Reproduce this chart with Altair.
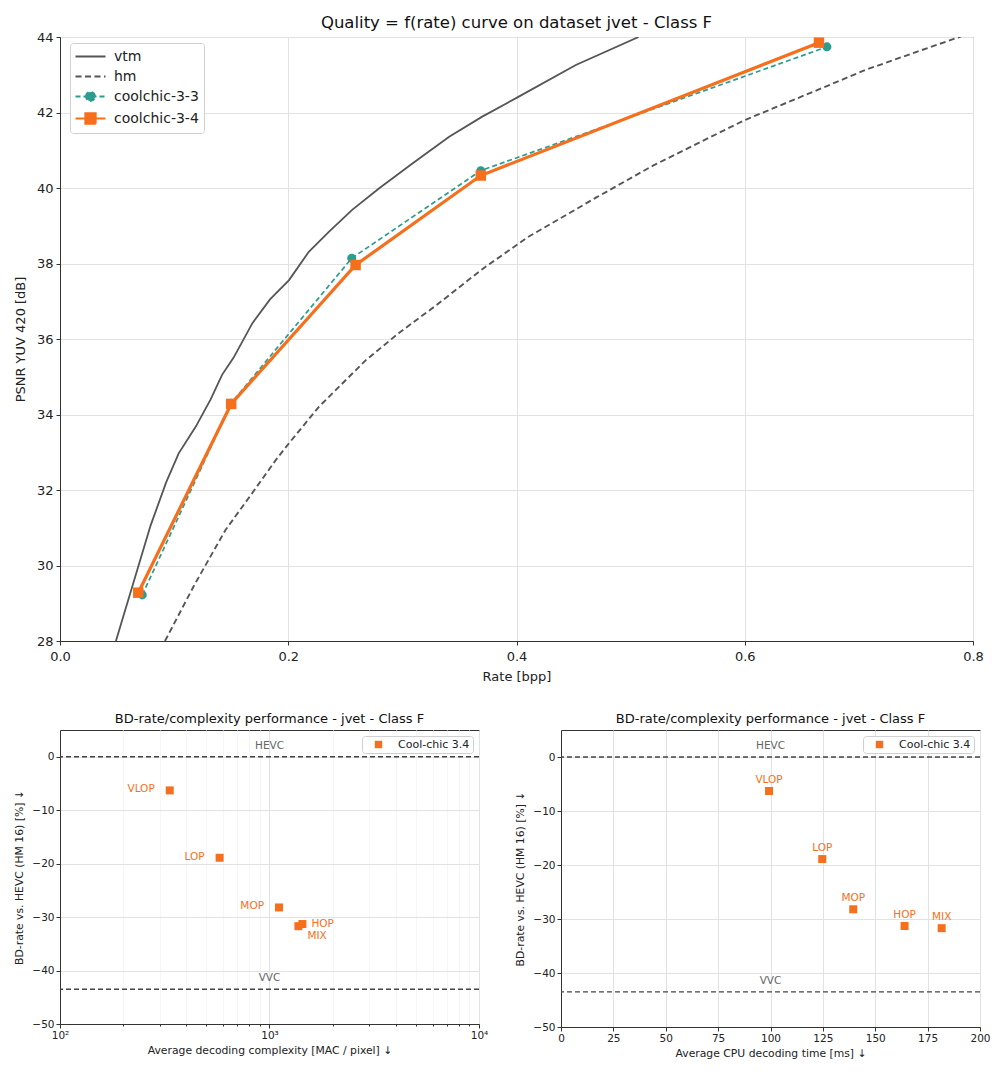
import altair as alt
import pandas as pd

# ---------------- data: top chart ----------------
vtm_rate = [0.049, 0.0795, 0.093, 0.104, 0.119, 0.132, 0.142, 0.152, 0.1686, 0.184, 0.2007, 0.218,
            0.236, 0.256, 0.28, 0.3088, 0.341, 0.370, 0.402, 0.452, 0.507]
vtm_psnr = [28.0, 31.07, 32.2, 32.97, 33.68, 34.4, 35.05, 35.5, 36.42, 37.05, 37.56, 38.31,
            38.85, 39.42, 40.0, 40.65, 41.36, 41.89, 42.42, 43.26, 44.0]

hm_rate = [0.092, 0.118, 0.145, 0.168, 0.189, 0.2007, 0.227, 0.268, 0.297, 0.33, 0.37, 0.41,
           0.47, 0.52, 0.6, 0.66, 0.706, 0.75, 0.788, 0.80]
hm_psnr = [28.0, 29.5, 30.94, 31.9, 32.79, 33.24, 34.21, 35.44, 36.16, 36.9, 37.85, 38.7,
           39.75, 40.6, 41.8, 42.55, 43.13, 43.6, 44.0, 44.15]

cc33_rate = [0.0721, 0.150, 0.2556, 0.3687, 0.672]
cc33_psnr = [29.22, 34.3, 38.14, 40.46, 43.74]

cc34_rate = [0.0686, 0.150, 0.259, 0.3687, 0.665]
cc34_psnr = [29.28, 34.28, 37.96, 40.33, 43.85]

series_names = ["vtm", "hm", "coolchic-3-3", "coolchic-3-4"]

# ---------------- data: bottom charts ----------------
op_points = ["VLOP", "LOP", "MOP", "HOP", "MIX"]
bd_rate = [-6.3, -18.9, -28.2, -31.3, -31.7]
mac_per_pixel = [334, 578, 1110, 1436, 1374]
cpu_time_ms = [99.3, 124.7, 139.5, 164.0, 181.7]
method_name = "Cool-chic 3.4"

ref_codecs = ["HEVC", "VVC"]
ref_bd = [0.0, -43.5]

log_ticks = [100, 200, 300, 400, 500, 600, 700, 800, 900,
             1000, 2000, 3000, 4000, 5000, 6000, 7000, 8000, 9000, 10000]
cpu_ticks = [0, 25, 50, 75, 100, 125, 150, 175, 200]
bd_ticks = [-50, -40, -30, -20, -10, 0]

# ---------------- styles ----------------
GRAY = "#555555"
TEAL = "#2a9d8f"
ORANGE = "#f66f1c"
FONT = "DejaVu Sans"

df_vtm = pd.DataFrame({"rate": vtm_rate, "psnr": vtm_psnr})
df_hm = pd.DataFrame({"rate": hm_rate, "psnr": hm_psnr})
df_cc33 = pd.DataFrame({"rate": cc33_rate, "psnr": cc33_psnr})
df_cc34 = pd.DataFrame({"rate": cc34_rate, "psnr": cc34_psnr})
df_series = pd.DataFrame({"series": series_names})

LINE_PATH = "M-2,0L2,0"
CIRC_PATH = "M-2,0L2,0M-0.6,0A0.6,0.6,0,1,1,0.6,0A0.6,0.6,0,1,1,-0.6,0Z"
SQ_PATH = "M-2,0L2,0M-0.7,-0.7L0.7,-0.7L0.7,0.7L-0.7,0.7Z"

x_top = alt.X("rate:Q", scale=alt.Scale(domain=[0, 0.8], nice=False),
              axis=alt.Axis(values=[0, 0.2, 0.4, 0.6, 0.8], format=".1f", title="Rate [bpp]",
                            labelFontSize=13, titleFontSize=13, titlePadding=7, labelPadding=5))
y_top = alt.Y("psnr:Q", scale=alt.Scale(domain=[28, 44], nice=False),
              axis=alt.Axis(values=list(range(28, 45, 2)), title="PSNR YUV 420 [dB]",
                            labelFontSize=13, titleFontSize=13, titlePadding=9, labelPadding=3))

vtm_line = alt.Chart(df_vtm).mark_line(color=GRAY, strokeWidth=1.8, clip=True).encode(x=x_top, y=y_top)
hm_line = alt.Chart(df_hm).mark_line(color=GRAY, strokeWidth=1.9, strokeDash=[6, 3.5],
                                     clip=True).encode(x=x_top, y=y_top)
cc33_line = alt.Chart(df_cc33).mark_line(color=TEAL, strokeWidth=1.7, strokeDash=[5, 3],
                                         clip=True).encode(x=x_top, y=y_top)
cc33_pts = alt.Chart(df_cc33).mark_point(filled=True, shape="circle", size=80, opacity=1,
                                         color=TEAL, clip=True).encode(x=x_top, y=y_top)
cc34_line = alt.Chart(df_cc34).mark_line(color=ORANGE, strokeWidth=3.2, clip=True).encode(x=x_top, y=y_top)
cc34_pts = alt.Chart(df_cc34).mark_point(filled=True, shape="square", size=110, opacity=1,
                                         color=ORANGE, clip=True).encode(x=x_top, y=y_top)

# legend-only layer (no rows drawn; explicit scale domains feed the legend)
legend_layer = alt.Chart(df_series).transform_filter("false").mark_point(
    size=225, opacity=1).encode(
    fill=alt.Fill("series:N", scale=alt.Scale(domain=series_names, range=[GRAY, GRAY, TEAL, ORANGE]),
                  legend=alt.Legend(title=None)),
    stroke=alt.Stroke("series:N", scale=alt.Scale(domain=series_names, range=[GRAY, GRAY, TEAL, ORANGE]),
                      legend=alt.Legend(title=None)),
    shape=alt.Shape("series:N", scale=alt.Scale(domain=series_names,
                                                range=[LINE_PATH, LINE_PATH, CIRC_PATH, SQ_PATH]),
                    legend=alt.Legend(title=None)),
    strokeDash=alt.StrokeDash("series:N", scale=alt.Scale(domain=series_names,
                                                          range=[[1, 0], [6, 3.5], [5, 3], [1, 0]]),
                              legend=alt.Legend(title=None)),
    strokeWidth=alt.StrokeWidth("series:N", scale=alt.Scale(domain=series_names,
                                                            range=[1.8, 1.8, 1.7, 3.2]),
                                legend=alt.Legend(
                                    title=None, orient="none", legendX=10, legendY=6, padding=5,
                                    strokeColor="#d0d0d0", fillColor="white", cornerRadius=3,
                                    labelFont=FONT, labelFontSize=14, labelColor="#222",
                                    symbolSize=225, symbolOffset=7, labelOffset=15, rowPadding=4,
                                    symbolOpacity=1)),
)

top = alt.layer(vtm_line, hm_line, cc33_line, cc33_pts, cc34_line, cc34_pts, legend_layer).properties(
    width=913, height=604,
    title=alt.TitleParams("Quality = f(rate) curve on dataset jvet - Class F",
                          fontSize=16.5, fontWeight="normal", font=FONT, offset=0, color="#111"),
)

# ---------------- bottom charts ----------------
df_ops = pd.DataFrame({"op": op_points, "bd": bd_rate, "mac": mac_per_pixel,
                       "cpu": cpu_time_ms, "method": method_name})
df_ref = pd.DataFrame({"ref": ref_codecs, "bd": ref_bd})

bottom_title = "BD-rate/complexity performance - jvet - Class F"
y_bottom = alt.Y("bd:Q", scale=alt.Scale(domain=[-50, 5], nice=False),
                 axis=alt.Axis(values=bd_ticks, title="BD-rate vs. HEVC (HM 16) [%]  ↓",
                               labelExpr="replace(datum.label, '-', '−')",
                               labelFontSize=10.5, titleFontSize=10.8, titlePadding=7))

bottom_legend = alt.Legend(
    title=None, orient="top-right", offset=6, padding=3,
    strokeColor="#d0d0d0", fillColor="white", cornerRadius=3,
    labelFont=FONT, labelFontSize=11, labelColor="#222",
    symbolType="square", symbolSize=55, symbolOffset=8, labelOffset=14,
    symbolFillColor=ORANGE, symbolStrokeWidth=0, symbolOpacity=1,
)


def bottom_chart(x_enc, x_center, label_layers, height):
    rules = alt.Chart(df_ref).mark_rule(strokeDash=[5, 3], color="#444", strokeWidth=1.3).encode(
        y=y_bottom)
    ref_text = alt.Chart(df_ref).mark_text(color="#666", fontSize=10.5, dy=-11, font=FONT).encode(
        x=alt.datum(x_center), y=alt.Y("bd:Q"), text="ref:N")
    pts = alt.Chart(df_ops).mark_point(filled=True, shape="square", size=64, opacity=1).encode(
        x=x_enc, y=y_bottom,
        color=alt.Color("method:N", scale=alt.Scale(domain=[method_name], range=[ORANGE]),
                        legend=bottom_legend))
    return alt.layer(rules, ref_text, pts, *label_layers).properties(
        width=419, height=height,
        title=alt.TitleParams(bottom_title, fontSize=13, fontWeight="normal", font=FONT,
                              offset=4, color="#111"),
    )


MAJOR = "datum.value === 100 || datum.value === 1000 || datum.value === 10000"
x_mac = alt.X("mac:Q", scale=alt.Scale(type="log", domain=[100, 10000], nice=False),
              axis=alt.Axis(values=log_ticks,
                            labelExpr="datum.value === 100 ? '10²' : datum.value === 1000 ? '10³' : datum.value === 10000 ? '10⁴' : ''",
                            gridColor={"condition": {"test": MAJOR, "value": "#e2e2e2"}, "value": "#f6f6f6"},
                            tickSize={"condition": {"test": MAJOR, "value": 4}, "value": 2},
                            title="Average decoding complexity [MAC / pixel]  ↓",
                            labelFontSize=10.5, titleFontSize=10.8, titlePadding=4))

x_cpu = alt.X("cpu:Q", scale=alt.Scale(domain=[0, 200], nice=False),
              axis=alt.Axis(values=cpu_ticks, title="Average CPU decoding time [ms]  ↓",
                            labelFontSize=10.5, titleFontSize=10.8, titlePadding=4))


def labels(x_enc, ops, **kw):
    return alt.Chart(df_ops).transform_filter(
        alt.FieldOneOfPredicate(field="op", oneOf=ops)
    ).mark_text(color=ORANGE, fontSize=10.5, font=FONT, **kw).encode(
        x=x_enc, y=alt.Y("bd:Q"), text="op:N")


left_labels = [
    labels(x_mac, ["VLOP", "LOP", "MOP"], align="right", dx=-15, dy=-1),
    labels(x_mac, ["HOP"], align="left", dx=9, dy=0),
    labels(x_mac, ["MIX"], align="left", dx=9, dy=10),
]
right_labels = [labels(x_cpu, op_points, align="center", dy=-11.5)]

bottom_left = bottom_chart(x_mac, 1000, left_labels, 294)
bottom_right = bottom_chart(x_cpu, 100, right_labels, 297)

bottom = alt.hconcat(bottom_left, bottom_right, spacing=25).resolve_scale(
    color="independent", x="independent")

chart = alt.vconcat(top, bottom, spacing=28).resolve_scale(
    color="independent").properties(
    padding={"left": 5, "top": 6, "right": 0, "bottom": 0}).configure(
    font=FONT,
).configure_view(
    stroke="#333", strokeWidth=1,
).configure_axis(
    grid=True, gridColor="#e2e2e2", gridWidth=1,
    domainColor="#333", tickColor="#333", tickSize=4,
    labelColor="#222", titleColor="#222", labelFont=FONT, titleFont=FONT,
    titleFontWeight="normal", labelFlush=False,
)

chart.save("out.html", embed_options={"renderer": "svg", "actions": False})
